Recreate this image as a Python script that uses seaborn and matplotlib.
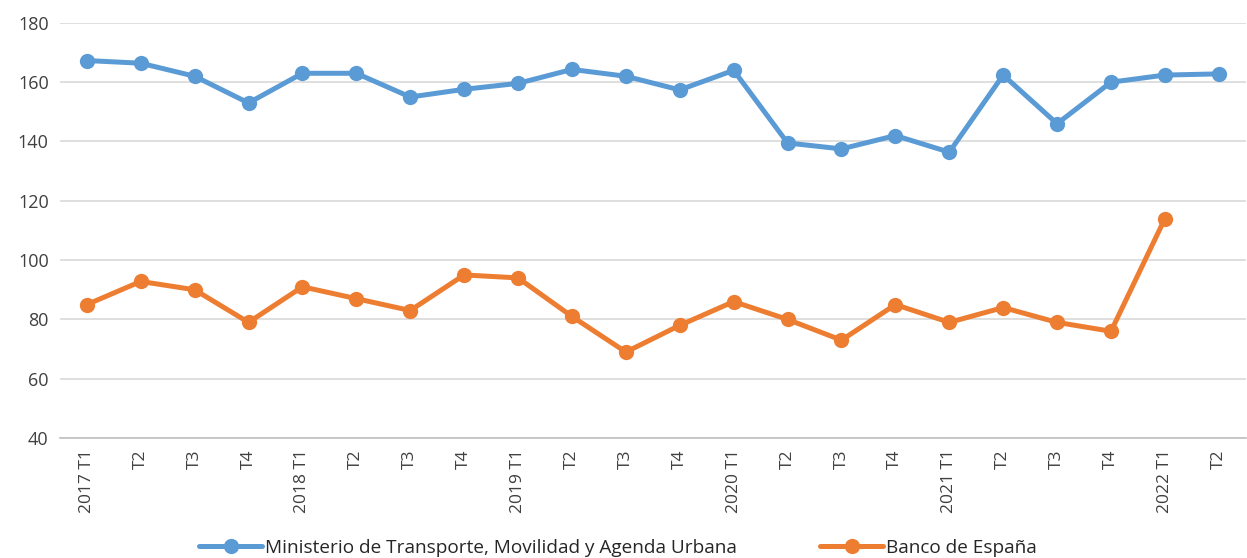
import numpy as np
import pandas as pd
import matplotlib
matplotlib.use("Agg")
import matplotlib.pyplot as plt
import seaborn as sns

labels = ["2017 T1", "T2", "T3", "T4", "2018 T1", "T2", "T3", "T4", "2019 T1", "T2", "T3", "T4",
          "2020 T1", "T2", "T3", "T4", "2021 T1", "T2", "T3", "T4", "2022 T1", "T2"]
ministerio = [167.3, 166.4, 162.0, 153.0, 163.0, 163.0, 155.0, 157.6, 159.6, 164.3, 162.0, 157.4,
              164.0, 139.5, 137.5, 142.0, 136.4, 162.4, 146.0, 160.0, 162.4, 162.8]
banco = [85.0, 92.8, 90.0, 79.0, 91.0, 87.0, 83.0, 95.0, 94.0, 81.0, 69.0, 78.0,
         86.0, 80.0, 73.0, 85.0, 79.0, 84.0, 79.0, 76.0, 114.0, np.nan]
series_names = ["Ministerio de Transporte, Movilidad y Agenda Urbana", "Banco de España"]
colors = ["#5B9BD5", "#ED7D31"]

df = pd.DataFrame({
    "pos": list(range(len(labels))) * 2,
    "valor": ministerio + banco,
    "serie": [series_names[0]] * len(labels) + [series_names[1]] * len(labels),
})

sns.set_theme(style="white")
plt.rcParams['font.family'] = ['Open Sans', 'DejaVu Sans']

fig = plt.figure(figsize=(12.47, 5.58), dpi=100)
ax = fig.add_axes([0.048, 0.215, 0.951, 0.744])

sns.lineplot(data=df, x="pos", y="valor", hue="serie", palette=colors, marker="o",
             markersize=11, markeredgewidth=0, linewidth=3.6, ax=ax, sort=False)

ax.set_xlim(-0.5, len(labels) - 0.5)
ax.set_ylim(40, 180)
ax.set_yticks(range(40, 181, 20))
ax.grid(axis="y", color="#D9D9D9", linewidth=1.2)
ax.set_axisbelow(True)
ax.set_xlabel("")
ax.set_ylabel("")

ax.set_xticks(range(len(labels)))
ax.set_xticklabels(labels, rotation=90, fontsize=12.5, color="#404040")
ax.set_xticks(np.arange(-0.5, len(labels), 1.0), minor=True)
ax.tick_params(axis="x", which="major", length=0, pad=8)
ax.tick_params(axis="x", which="minor", length=5, width=1, color="#BFBFBF", direction="out")
ax.tick_params(axis="y", length=0, labelsize=13, labelcolor="#404040", pad=8)

for s in ["left", "right", "top"]:
    ax.spines[s].set_visible(False)
ax.spines["bottom"].set_color("#BFBFBF")
ax.spines["bottom"].set_linewidth(1.2)

handles, lbls = ax.get_legend_handles_labels()
ax.legend(handles, lbls, loc="center", bbox_to_anchor=(0.4956, 0.018),
          bbox_transform=fig.transFigure, ncol=2, frameon=False, fontsize=13.7,
          handlelength=3.3, columnspacing=4.4, handletextpad=0.15, labelcolor="#262626",
          borderpad=0)

fig.savefig("out.png", dpi=100)
